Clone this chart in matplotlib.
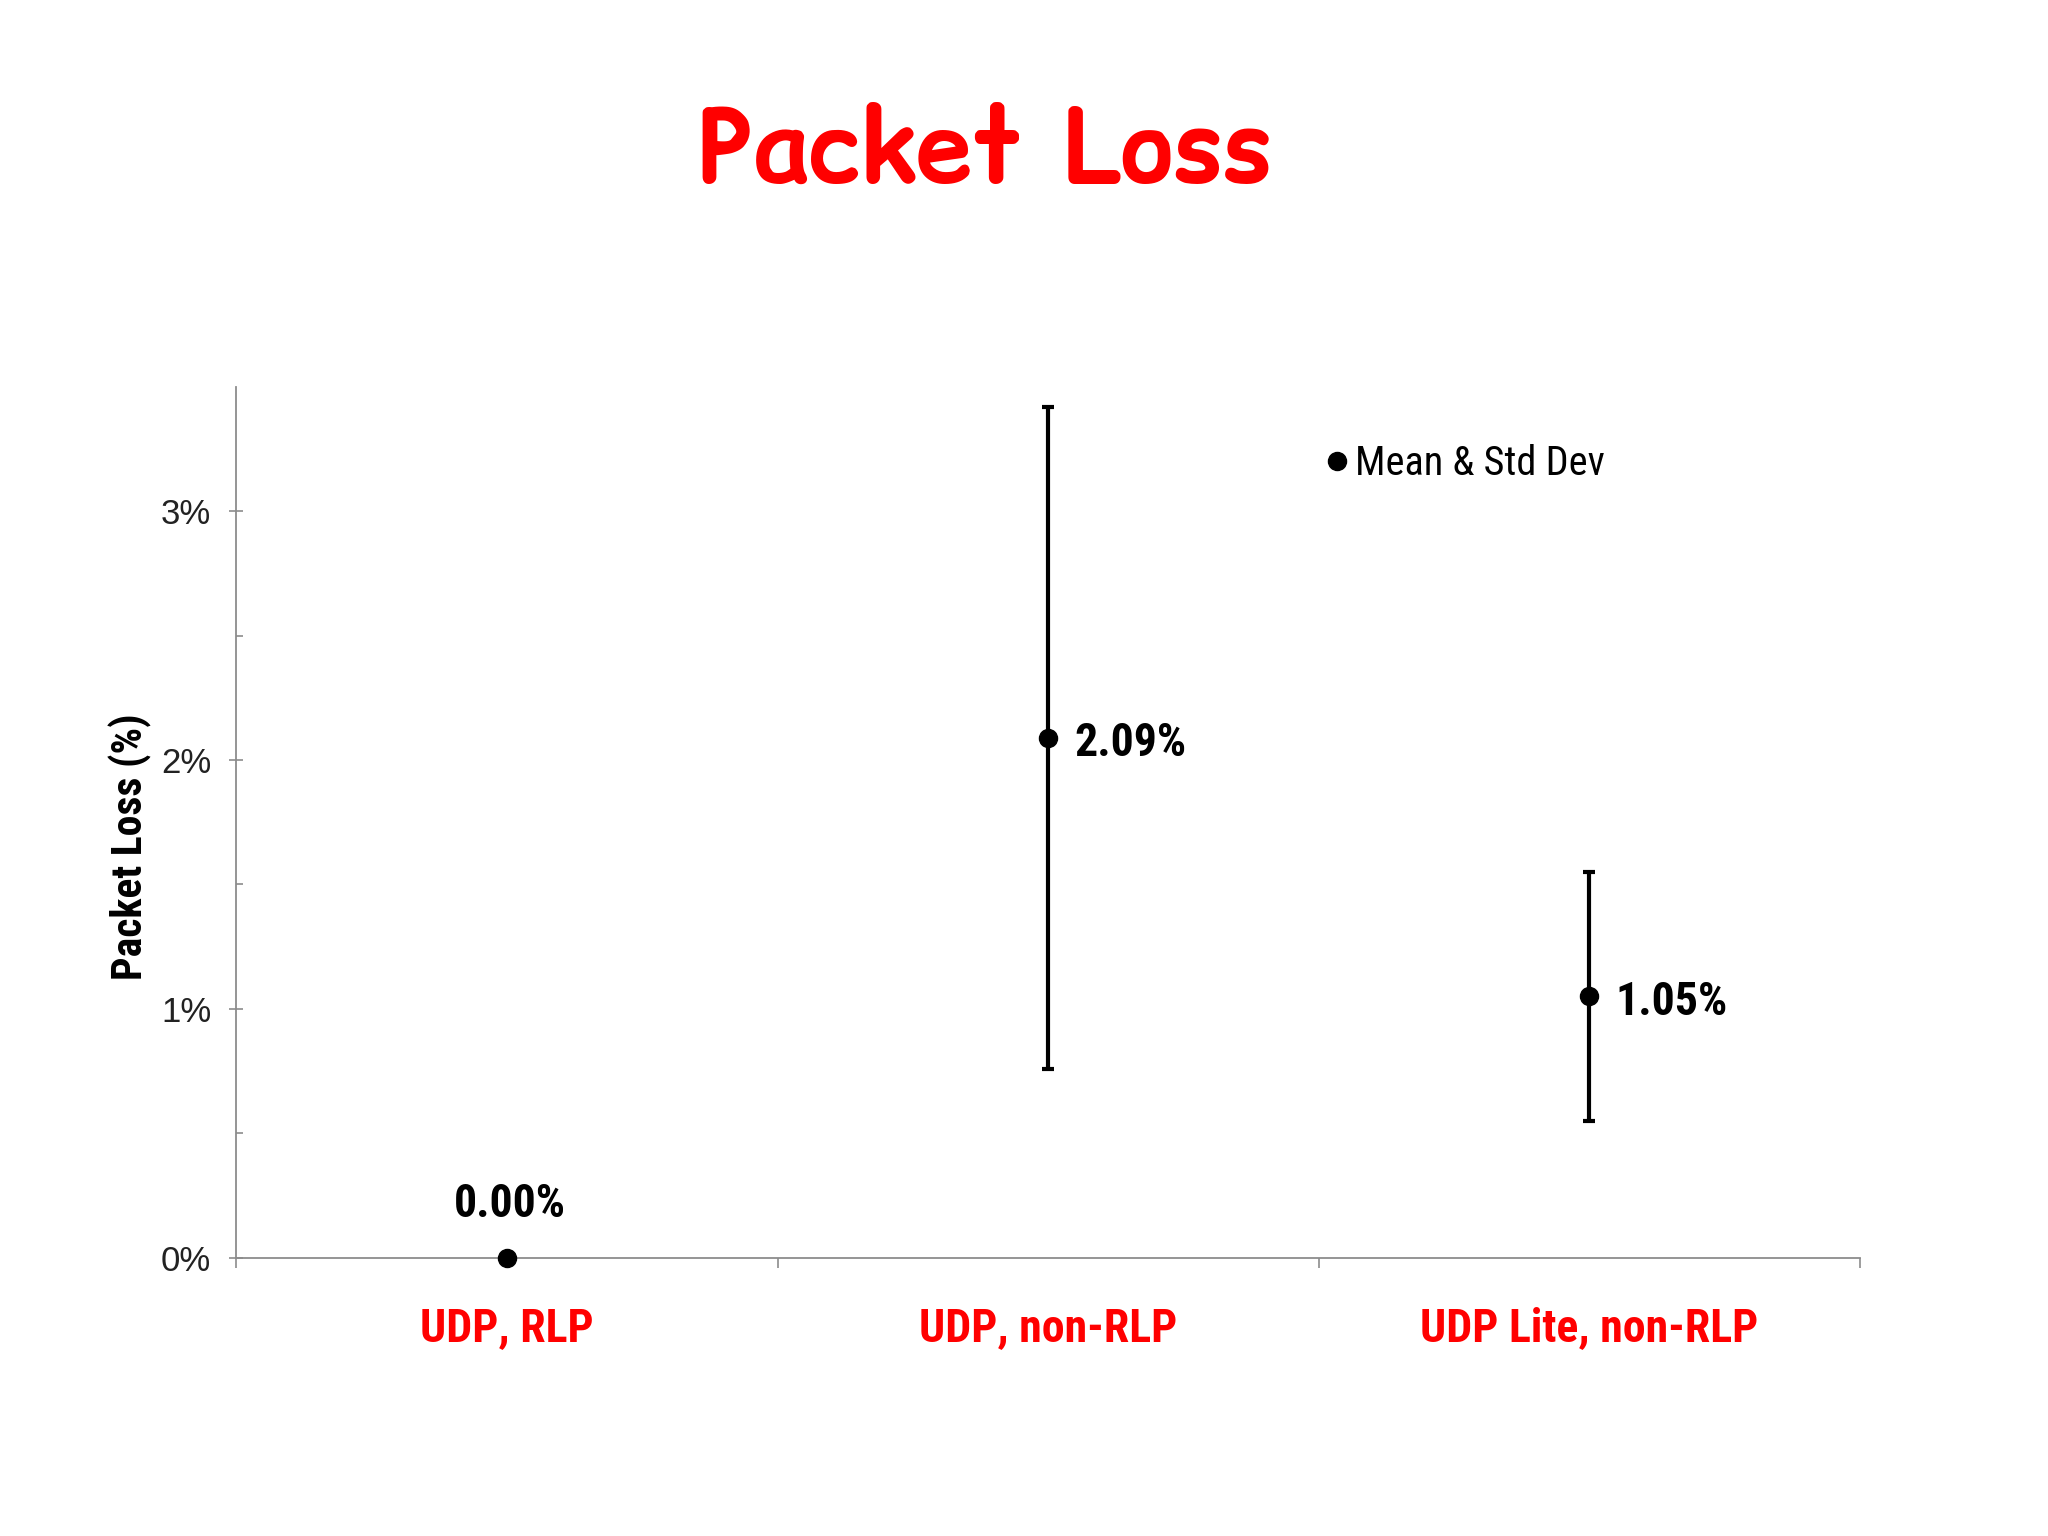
import matplotlib
matplotlib.use("Agg")
import matplotlib.pyplot as plt
from matplotlib.lines import Line2D

# data
categories = ["UDP, RLP", "UDP, non-RLP", "UDP Lite, non-RLP"]
mean_loss = [0.00, 2.09, 1.05]        # percent
std_loss = [0.00, 1.33, 0.50]         # percent
value_labels = ["0.00%", "2.09%", "1.05%"]
y_ticks = [0, 1, 2, 3]
y_tick_labels = ["0%", "1%", "2%", "3%"]

NARROW = ["Roboto Condensed", "DejaVu Sans"]
RED = "#FF0000"
AXIS_GREY = "#8c8c8c"

fig = plt.figure(figsize=(20.48, 15.36), dpi=100)
fig.patch.set_facecolor("white")
ax = fig.add_axes([0.1154, 0.1811, 0.7928, 0.5672])

xpos = [i + 0.5 for i in range(len(categories))]
ax.errorbar(xpos, mean_loss, yerr=std_loss, fmt="o", color="black",
            markersize=13, elinewidth=3, capsize=4, capthick=3,
            clip_on=False, zorder=3)

# value labels next to each point
for x, y, s in zip(xpos, mean_loss, value_labels):
    if y == 0:
        offset, ha = (2, 39), "center"
    else:
        offset, ha = (19, -4), "left"
    ax.annotate(s, (x, y), xytext=offset, textcoords="offset points",
                ha=ha, va="center", fontsize=33, fontweight="bold",
                family=NARROW, color="black")

ax.set_xlim(0, len(categories))
ax.set_ylim(0, 3.5)

# axes styling
for side in ("top", "right"):
    ax.spines[side].set_visible(False)
for side in ("left", "bottom"):
    ax.spines[side].set_color(AXIS_GREY)
    ax.spines[side].set_linewidth(1.3)

ax.set_yticks(y_ticks)
ax.set_yticklabels(y_tick_labels, fontsize=25, family=["Liberation Sans", "DejaVu Sans"])
ax.set_yticks([0.5, 1.5, 2.5], minor=True)
ax.tick_params(axis="y", which="major", direction="inout", length=10,
               width=1.2, color=AXIS_GREY, pad=13, labelcolor="#222222")
ax.tick_params(axis="y", which="minor", direction="in", length=5,
               width=1.2, color=AXIS_GREY)

ax.set_xticks(xpos)
ax.set_xticklabels(categories, fontsize=33, fontweight="bold", family=NARROW,
                   color=RED)
ax.set_xticks(range(len(categories) + 1), minor=True)
ax.tick_params(axis="x", which="major", length=0, pad=35)
ax.tick_params(axis="x", which="minor", direction="out", length=7,
               width=1.2, color=AXIS_GREY)

ax.set_ylabel("Packet Loss (%)", fontsize=30, fontweight="bold", family=NARROW)
ax.yaxis.set_label_coords(-0.052, 0.472)

# legend
handle = Line2D([], [], marker="o", linestyle="none", color="black", markersize=13)
ax.legend([handle], ["Mean & Std Dev"], loc="center left",
          bbox_to_anchor=(0.668, 0.912), frameon=False,
          prop={"family": NARROW, "size": 29}, handlelength=0.8,
          handletextpad=0.05, borderpad=0, borderaxespad=0)

fig.text(0.4815, 0.899, "Packet Loss", ha="center", va="center",
         fontsize=73, fontweight="bold", color=RED,
         family=["Comic Relief", "Comic Neue", "DejaVu Sans"])

fig.savefig("out.png", dpi=100, facecolor="white")
